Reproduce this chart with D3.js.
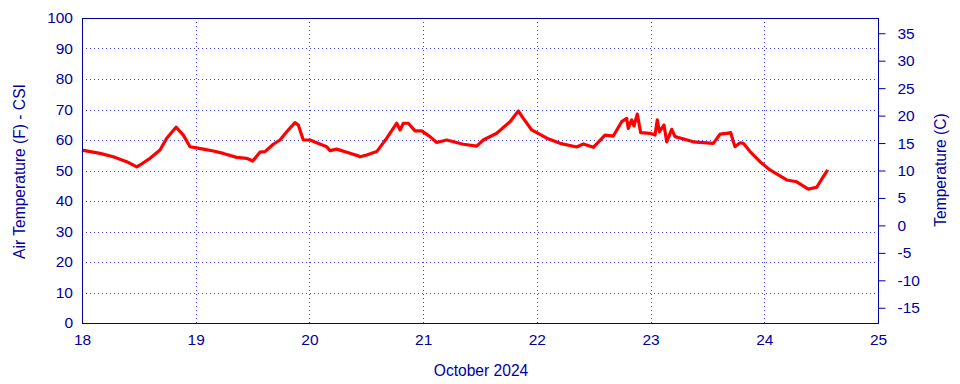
<!DOCTYPE html>
<html>
<head>
<meta charset="utf-8">
<script src="https://cdn.jsdelivr.net/npm/d3@7"></script>
<style>
    body { margin: 0; background: #fff; }
    svg { display: block; font-family: "Liberation Sans", Arial, sans-serif; }
</style>
</head>
<body>
<svg id="chart" width="960" height="384"></svg>
<script>
// day of October 2024 (decimal) and air temperature in F
const days = [
    18.00, 18.158, 18.275, 18.393, 18.481, 18.510, 18.598, 18.686, 18.745, 18.827,
    18.891, 18.950, 18.994, 19.067, 19.155, 19.243, 19.360, 19.448, 19.501, 19.565,
    19.609, 19.682, 19.741, 19.800, 19.873, 19.902, 19.946, 20.005, 20.064, 20.152,
    20.181, 20.240, 20.328, 20.430, 20.445, 20.504, 20.592, 20.636, 20.680, 20.768,
    20.797, 20.826, 20.870, 20.928, 20.987, 21.060, 21.119, 21.207, 21.353, 21.471,
    21.529, 21.647, 21.764, 21.837, 21.881, 21.955, 22.087, 22.204, 22.350, 22.409,
    22.497, 22.599, 22.672, 22.746, 22.790, 22.804, 22.834, 22.854, 22.883, 22.913,
    22.995, 23.039, 23.059, 23.077, 23.118, 23.142, 23.186, 23.215, 23.376, 23.552,
    23.611, 23.670, 23.705, 23.728, 23.743, 23.787, 23.816, 23.875, 23.962, 24.050,
    24.197, 24.285, 24.387, 24.461, 24.519, 24.558
];
const tempF = [
    56.7, 55.6, 54.5, 52.9, 51.2, 51.8, 54.0, 56.7, 60.6, 64.2,
    61.6, 57.8, 57.5, 57.0, 56.4, 55.6, 54.3, 54.0, 53.1, 56.0,
    56.2, 58.6, 60.0, 62.7, 65.7, 64.9, 60.0, 60.0, 59.1, 57.8,
    56.5, 57.0, 56.0, 54.8, 54.5, 55.1, 56.2, 58.4, 60.6, 65.5,
    63.3, 65.5, 65.5, 63.0, 63.0, 61.1, 59.2, 60.0, 58.6, 58.0,
    60.0, 62.2, 66.0, 69.5, 67.1, 63.3, 60.6, 58.9, 57.7, 58.7,
    57.6, 61.6, 61.3, 66.0, 67.1, 63.8, 66.6, 64.6, 68.5, 62.4,
    62.2, 61.6, 66.6, 62.7, 64.9, 59.4, 63.5, 61.1, 59.4, 58.9,
    61.9, 62.2, 62.4, 59.4, 57.8, 59.1, 58.9, 56.2, 52.9, 50.2,
    46.9, 46.3, 43.9, 44.5, 48.0, 50.2
];
const xTicks = [18, 19, 20, 21, 22, 23, 24, 25];
const yTicksF = [0, 10, 20, 30, 40, 50, 60, 70, 80, 90, 100];
const yTicksC = [-15, -10, -5, 0, 5, 10, 15, 20, 25, 30, 35];

const svg = d3.select("#chart");
const margin = { left: 82, right: 82, top: 18, bottom: 61 };
const width = 960 - margin.left - margin.right;
const height = 384 - margin.top - margin.bottom;
const axisColor = "#0000a0";
const fontSize = "15.5px";

const x = d3.scaleLinear().domain([18, 25]).range([0, width]);
const y = d3.scaleLinear().domain([0, 100]).range([height, 0]);
const yC = d3.scaleLinear().domain([(0 - 32) * 5 / 9, (100 - 32) * 5 / 9]).range([height, 0]);

const g = svg.append("g").attr("transform", `translate(${margin.left},${margin.top})`);

// grid
g.append("g").selectAll("line")
    .data(xTicks.slice(1, -1))
    .enter().append("line")
    .attr("x1", d => Math.round(x(d)) + 0.5)
    .attr("x2", d => Math.round(x(d)) + 0.5)
    .attr("y1", 0).attr("y2", height)
    .attr("stroke", "#3d3dff")
    .attr("stroke-dasharray", "1,3");

g.append("g").selectAll("line")
    .data(yTicksF.slice(1, -1))
    .enter().append("line")
    .attr("y1", d => Math.round(y(d)) + 0.5)
    .attr("y2", d => Math.round(y(d)) + 0.5)
    .attr("x1", 0).attr("x2", width)
    .attr("stroke", "#3d3dff")
    .attr("stroke-dasharray", "1,3");

// data line
const line = d3.line()
    .x((d, i) => x(days[i]))
    .y(d => y(d));

g.append("path")
    .datum(tempF)
    .attr("d", line)
    .attr("fill", "none")
    .attr("stroke", "#ff0000")
    .attr("stroke-width", 3.2)
    .attr("stroke-linejoin", "round");

// frame
g.append("rect")
    .attr("x", 0.5).attr("y", 0.5)
    .attr("width", width).attr("height", height)
    .attr("fill", "none")
    .attr("stroke", axisColor)
    .attr("stroke-width", 1);

function styleText(sel) {
    sel.selectAll("text")
        .attr("fill", axisColor)
        .style("font-size", fontSize)
        .style("font-family", "Liberation Sans, Arial, sans-serif");
}

// left axis
const left = g.append("g")
    .call(d3.axisLeft(y).tickValues(yTicksF).tickFormat(d => String(d)).tickSize(0).tickPadding(9));
left.select(".domain").remove();
styleText(left);

// right axis
const right = g.append("g")
    .attr("transform", `translate(${width + 0.5},0)`)
    .call(d3.axisRight(yC).tickValues(yTicksC).tickFormat(d => String(d)).tickSize(7).tickPadding(12));
right.select(".domain").remove();
right.selectAll("line").attr("stroke", axisColor);
styleText(right);

// bottom axis
const bottom = g.append("g")
    .attr("transform", `translate(0,${height})`)
    .call(d3.axisBottom(x).tickValues(xTicks).tickFormat(d => String(d)).tickSize(0).tickPadding(11));
bottom.select(".domain").remove();
styleText(bottom);

// titles
svg.append("text")
    .attr("x", 481)
    .attr("y", 376)
    .attr("text-anchor", "middle")
    .attr("fill", axisColor)
    .style("font-size", "15.6px")
    .text("October 2024");

svg.append("text")
    .attr("transform", "translate(25,171.5) rotate(-90)")
    .attr("text-anchor", "middle")
    .attr("fill", axisColor)
    .style("font-size", "15.6px")
    .text("Air Temperature (F) - CSI");

svg.append("text")
    .attr("transform", "translate(946,170) rotate(-90)")
    .attr("text-anchor", "middle")
    .attr("fill", axisColor)
    .style("font-size", "15.6px")
    .text("Temperature (C)");
</script>
</body>
</html>
